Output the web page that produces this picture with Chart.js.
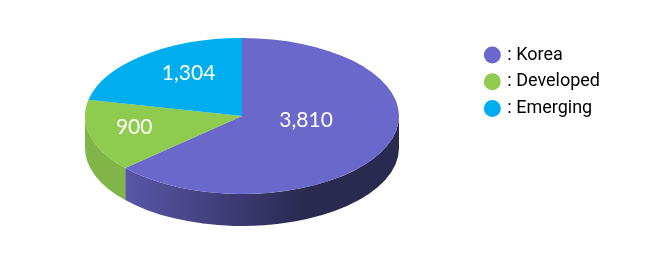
<!DOCTYPE html>
<html>
<head>
<meta charset="utf-8">
<script src="https://cdn.jsdelivr.net/npm/chart.js@4"></script>
<style>
  body { margin: 0; background: #fff; }
  canvas { display: block; }
</style>
</head>
<body>
<canvas id="myChart" width="654" height="260"></canvas>
<script>
var categories = ['Korea', 'Developed', 'Emerging'];
var values = [3810, 900, 1304];
var topColors = ['#6a68cb', '#8ecb4e', '#00aeef'];
// side wall gradient (light -> dark)
var sideColors = [['#5a57a9', '#2a294f'], ['#81b547', '#74a43d'], ['#0093cc', '#007aab']];
// label placement: radial fraction and angle nudge (deg) per slice
var labelFrac = [0.41, 0.70, 0.66];
var labelNudge = [-18.6, 3.9, 8];

var pie3d = {
    id: 'pie3d',
    beforeDatasetsDraw: function(chart, args, opts) {
        var ctx = chart.ctx;
        var arcs = chart.getDatasetMeta(0).data;
        var cx = opts.cx, cy = opts.cy, rx = opts.rx, ry = opts.ry, depth = opts.depth;

        arcs.forEach(function(arc, i) {
            // only the front half (0..PI) of the rim is visible
            var b0 = Math.max(arc.startAngle, 0);
            var b1 = Math.min(arc.endAngle, Math.PI);
            if (b1 <= b0) return;
            var g = ctx.createLinearGradient(cx - rx, 0, cx + rx, 0);
            g.addColorStop(0.12, sideColors[i][0]);
            g.addColorStop(0.70, sideColors[i][1]);
            g.addColorStop(1, sideColors[i][1]);
            ctx.save();
            ctx.beginPath();
            ctx.ellipse(cx, cy, rx, ry, 0, b0, b1);
            ctx.ellipse(cx, cy + depth, rx, ry, 0, b1, b0, true);
            ctx.closePath();
            ctx.fillStyle = g;
            ctx.fill();
            ctx.restore();
        });

        // squash the top face into an ellipse
        var a = arcs[0];
        ctx.save();
        ctx.translate(cx, cy);
        ctx.scale(rx / a.outerRadius, ry / a.outerRadius);
        ctx.translate(-a.x, -a.y);
    },
    afterDatasetsDraw: function(chart, args, opts) {
        var ctx = chart.ctx;
        ctx.restore();
        var arcs = chart.getDatasetMeta(0).data;
        ctx.save();
        ctx.font = '21px Lato';
        ctx.fillStyle = '#ffffff';
        ctx.textAlign = 'center';
        ctx.textBaseline = 'middle';
        arcs.forEach(function(arc, i) {
            var mid = (arc.startAngle + arc.endAngle) / 2 + labelNudge[i] * Math.PI / 180;
            var x = opts.cx + Math.cos(mid) * opts.rx * labelFrac[i];
            var y = opts.cy + Math.sin(mid) * opts.ry * labelFrac[i];
            ctx.fillText(values[i].toLocaleString('en-US'), x, y + 1);
        });
        ctx.restore();
    }
};

var ctx = document.getElementById('myChart');
var myChart = new Chart(ctx, {
    type: 'pie',
    data: {
        labels: categories,
        datasets: [{
            data: values,
            backgroundColor: topColors,
            borderWidth: 0
        }]
    },
    plugins: [pie3d],
    options: {
        responsive: false,
        devicePixelRatio: 1,
        animation: false,
        layout: {
            padding: { top: 37.3, right: 44, bottom: 10, left: 10 }
        },
        plugins: {
            tooltip: { enabled: false },
            pie3d: { cx: 242, cy: 116, rx: 157, ry: 78, depth: 32 },
            legend: {
                position: 'right',
                align: 'start',
                labels: {
                    usePointStyle: true,
                    boxWidth: 12,
                    boxHeight: 12,
                    padding: 8.7,
                    color: '#1c3d6b',
                    font: { family: 'Roboto', size: 18 },
                    generateLabels: function(chart) {
                        return categories.map(function(c, i) {
                            return {
                                text: ': ' + c,
                                fillStyle: topColors[i],
                                strokeStyle: topColors[i],
                                lineWidth: 0,
                                pointStyle: 'circle',
                                hidden: false,
                                index: i
                            };
                        });
                    }
                }
            }
        }
    }
});
</script>
</body>
</html>
